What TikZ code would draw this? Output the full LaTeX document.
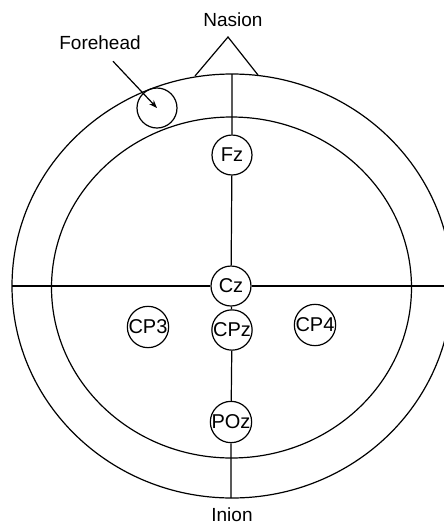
\documentclass[tikz,border=0pt]{standalone}
\usepackage{fontspec}
\setmainfont{Liberation Sans}
\usetikzlibrary{arrows.meta}

\begin{document}
\begin{tikzpicture}[x=0.5pt, y=-0.5pt, line width=0.6pt,
  electrode/.style={draw, circle, minimum size=20pt, inner sep=0pt, font=\fontsize{10}{12}\selectfont},
  lbl/.style={font=\fontsize{9.5}{11}\selectfont}]
\clip (0,0) rectangle (444,526);
% scalp outlines
\draw (232,286) ellipse [x radius=220, y radius=212];
\draw (231.5,287.5) ellipse [x radius=180, y radius=170.5];
% electrodes
\node[electrode] (Fz) at (232,155) {Fz};
\node[electrode] (Cz) at (231,286) {Cz};
\node[electrode] (CPz) at (232,330) {CPz};
\node[electrode] (CP3) at (148,327) {CP3};
\node[electrode] (CP4) at (315,325) {CP4};
\node[electrode] (POz) at (231,422) {POz};
\node[draw, circle, minimum size=20pt, inner sep=0pt] (fh) at (157,108) {};
% midlines
\coordinate (top) at (232,74);
\coordinate (bot) at (231,498);
\coordinate (lft) at (12,286);
\coordinate (rgt) at (452,286);
\draw (top) -- (Fz) (Fz) -- (Cz) (Cz) -- (CPz) (CPz) -- (POz) (POz) -- (bot);
\draw (lft) -- (Cz) (Cz) -- (rgt);
% labels
\node[lbl] (nasion) at (233,20) {Nasion};
\node[lbl] (forehead) at (100,43) {Forehead};
\node[lbl] (inion) at (232,515) {Inion};
\coordinate (apex) at (228,37);
\coordinate (nl) at (195,76);
\coordinate (nr) at (258,75);
\draw (nl) -- (apex) -- (nr);
\draw[-{Stealth[length=4pt,width=3pt]}] (forehead.south) ++(13,4) -- (fh.center);
\end{tikzpicture}
\end{document}
